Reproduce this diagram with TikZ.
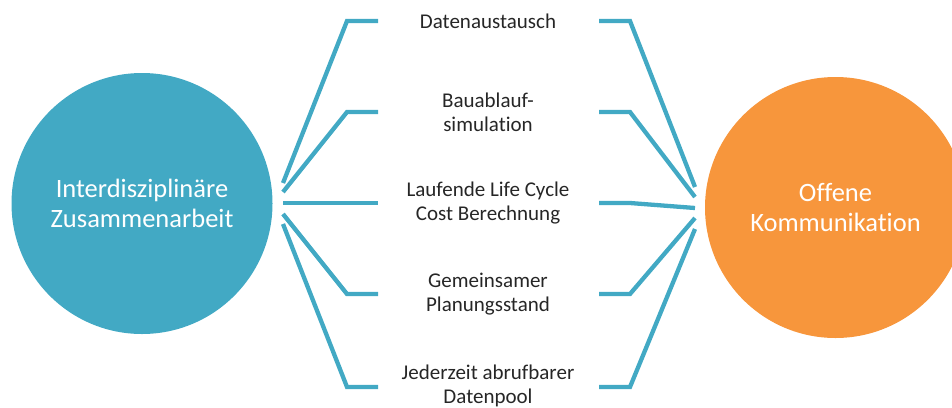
\documentclass[tikz,border=0pt]{standalone}
\usepackage{fontspec}
\setmainfont{Carlito}[Ligatures=NoCommon]
\definecolor{teal}{HTML}{42A9C4}
\definecolor{orng}{HTML}{F7963C}
\definecolor{txt}{HTML}{262626}
\begin{document}
\begin{tikzpicture}[x=1pt,y=-1pt,
  bigcircle/.style={circle,minimum size=261pt,inner sep=0pt,text=white,align=center,
    font=\fontsize{26.5}{30}\selectfont},
  label/.style={text=txt,align=center,font=\fontsize{21}{24}\selectfont,inner sep=0pt},
  conn/.style={draw=teal,line width=4.3pt,line join=miter}]
\useasboundingbox (0,0) rectangle (952,407);
\node[bigcircle,fill=teal] (A) at (142,203.5) {Interdisziplinäre\\Zusammenarbeit};
\node[bigcircle,fill=orng] (B) at (835.5,207.5) {Offene\\Kommunikation};
% labels
\node[label] (t1) at (488,21) {Datenaustausch};
\node[label] (t2) at (488,112) {Bauablauf-\\simulation};
\node[label] (t3) at (488,203) {Laufende Life Cycle\\Cost Berechnung};
\node[label] (t4) at (488,294) {Gemeinsamer\\Planungsstand};
\node[label] (t5) at (488,386) {Jederzeit abrufbarer\\Datenpool};
% left fan
\coordinate (l1) at (283,183); \coordinate (e1) at (347,21); \coordinate (h1) at (378,21);
\coordinate (l2) at (283,192); \coordinate (e2) at (347,112); \coordinate (h2) at (378,112);
\coordinate (l3) at (283,203); \coordinate (e3) at (347,203); \coordinate (h3) at (378,203);
\coordinate (l4) at (283,214); \coordinate (e4) at (347,294); \coordinate (h4) at (378,294);
\coordinate (l5) at (283,224); \coordinate (e5) at (347,387); \coordinate (h5) at (378,387);
% right fan
\coordinate (r1) at (695,187); \coordinate (f1) at (630,21); \coordinate (g1) at (599,21);
\coordinate (r2) at (695,197); \coordinate (f2) at (630,112); \coordinate (g2) at (599,112);
\coordinate (r3) at (695,208); \coordinate (f3) at (630,203); \coordinate (g3) at (599,203);
\coordinate (r4) at (695,218); \coordinate (f4) at (630,294); \coordinate (g4) at (599,294);
\coordinate (r5) at (695,229); \coordinate (f5) at (630,387); \coordinate (g5) at (599,387);
\foreach \i in {1,...,5}{
  \draw[conn] (l\i) -- (e\i) -- (h\i);
  \draw[conn] (g\i) -- (f\i) -- (r\i);
}
\end{tikzpicture}
\end{document}
